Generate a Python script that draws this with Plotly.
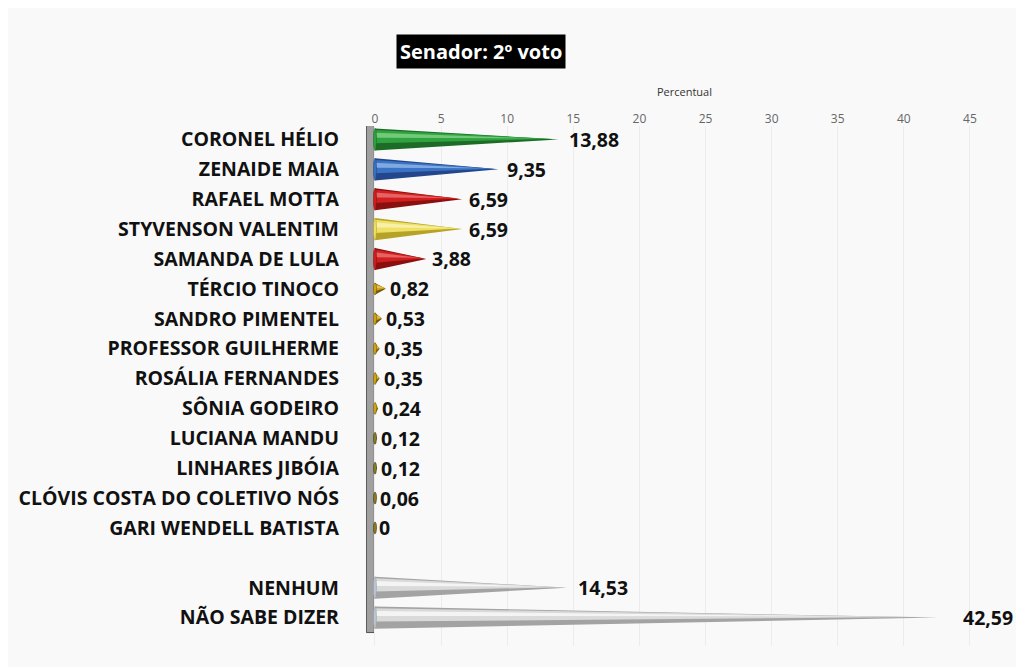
import numpy as np
import plotly.graph_objects as go

candidates = ['CORONEL HÉLIO', 'ZENAIDE MAIA', 'RAFAEL MOTTA', 'STYVENSON VALENTIM',
              'SAMANDA DE LULA', 'TÉRCIO TINOCO', 'SANDRO PIMENTEL', 'PROFESSOR GUILHERME',
              'ROSÁLIA FERNANDES', 'SÔNIA GODEIRO', 'LUCIANA MANDU', 'LINHARES JIBÓIA',
              'CLÓVIS COSTA DO COLETIVO NÓS', 'GARI WENDELL BATISTA', 'NENHUM', 'NÃO SABE DIZER']
values = [13.88, 9.35, 6.59, 6.59, 3.88, 0.82, 0.53, 0.35, 0.35, 0.24, 0.12, 0.12, 0.06, 0,
          14.53, 42.59]
labels = ['13,88', '9,35', '6,59', '6,59', '3,88', '0,82', '0,53', '0,35', '0,35', '0,24',
          '0,12', '0,12', '0,06', '0', '14,53', '42,59']
# row slots (one empty slot before NENHUM)
rows = list(range(14)) + [15, 16]

# (dark, main, light) per cone
palette = {
    'green': ('#1d6b27', '#2fa340', '#8fd98f'),
    'blue': ('#23478a', '#3b73c4', '#9cc0ee'),
    'red': ('#8a0f0f', '#d11f1f', '#f08080'),
    'yellow': ('#b5a226', '#efe067', '#fbf6c2'),
    'gold': ('#6b5a10', '#d4a51c', '#f2d56a'),
    'olive': ('#3e3a14', '#8a7d2a', '#c9b860'),
    'silver': ('#a3a3a3', '#dadada', '#ffffff'),
}
colors = ['green', 'blue', 'red', 'yellow', 'red', 'gold', 'gold', 'gold', 'gold', 'gold',
          'olive', 'olive', 'olive', 'olive', 'silver', 'silver']

FONT = 'Open Sans'

fig = go.Figure()

for v, r, c in zip(values, rows, colors):
    dark, main, light = palette[c]
    h = 0.37 if v >= 1 else 0.2
    # cone body
    fig.add_trace(go.Scatter(x=[0, v, 0, 0], y=[r - h, r, r + h, r - h], fill='toself',
                             fillcolor=dark, line=dict(width=0), mode='lines',
                             hoverinfo='skip', showlegend=False))
    fig.add_trace(go.Scatter(x=[0, v * 0.97, 0, 0], y=[r - h * 0.85, r - 0.02, r + h * 0.35, r - h * 0.85],
                             fill='toself', fillcolor=main, line=dict(width=0), mode='lines',
                             hoverinfo='skip', showlegend=False))
    fig.add_trace(go.Scatter(x=[0, v * 0.85, 0, 0], y=[r - h * 0.6, r - 0.04, r - h * 0.15, r - h * 0.6],
                             fill='toself', fillcolor=light, opacity=0.7, line=dict(width=0),
                             mode='lines', hoverinfo='skip', showlegend=False))
    # base ellipse
    t = np.linspace(0, 2 * np.pi, 40)
    fig.add_trace(go.Scatter(x=0.12 * np.cos(t), y=r + h * np.sin(t), fill='toself',
                             fillcolor=main if c != 'silver' else '#b9c6d8',
                             line=dict(width=0.6, color=dark), mode='lines',
                             hoverinfo='skip', showlegend=False))

# value labels, nudged a little past the tip
for v, r, lab in zip(values, rows, labels):
    fig.add_annotation(x=v, y=r, text='<b>%s</b>' % lab, showarrow=False, xanchor='left',
                       yanchor='middle', xshift=2 + v * 0.5,
                       font=dict(family=FONT, size=19.5, color='#111111'))

# side wall
fig.add_shape(type='rect', x0=-0.65, x1=-0.05, y0=-0.55, y1=16.5, xref='x', yref='y',
              fillcolor='#a0a0a0', line=dict(color='#505050', width=1), layer='below')

fig.add_annotation(x=0.18, y=1.144, xref='paper', yref='paper', xanchor='center', yanchor='middle',
                   text='<b>Senador: 2º voto</b>', showarrow=False, bgcolor='#000000', borderpad=3,
                   font=dict(family=FONT, size=20, color='white'))

fig.update_layout(
    width=1024, height=667,
    margin=dict(l=358, r=29, t=118, b=29),
    paper_bgcolor='#f9f9f9', plot_bgcolor='rgba(0,0,0,0)',
    xaxis=dict(range=[-0.68, 47.5], side='top', tickvals=list(range(0, 50, 5)),
               showgrid=True, gridcolor='#ececec', zeroline=False, showline=False,
               tickfont=dict(family=FONT, size=12, color='#666666'),
               title=dict(text='Percentual', font=dict(family=FONT, size=11, color='#333333'),
                          standoff=10)),
    yaxis=dict(range=[16.95, -0.45], tickvals=rows, ticktext=candidates, showgrid=False,
               zeroline=False, showline=False, ticklabelstandoff=26,
               tickfont=dict(family=FONT, size=19.5, color='#111111', weight='bold')),
)

fig.write_html("out.html")
